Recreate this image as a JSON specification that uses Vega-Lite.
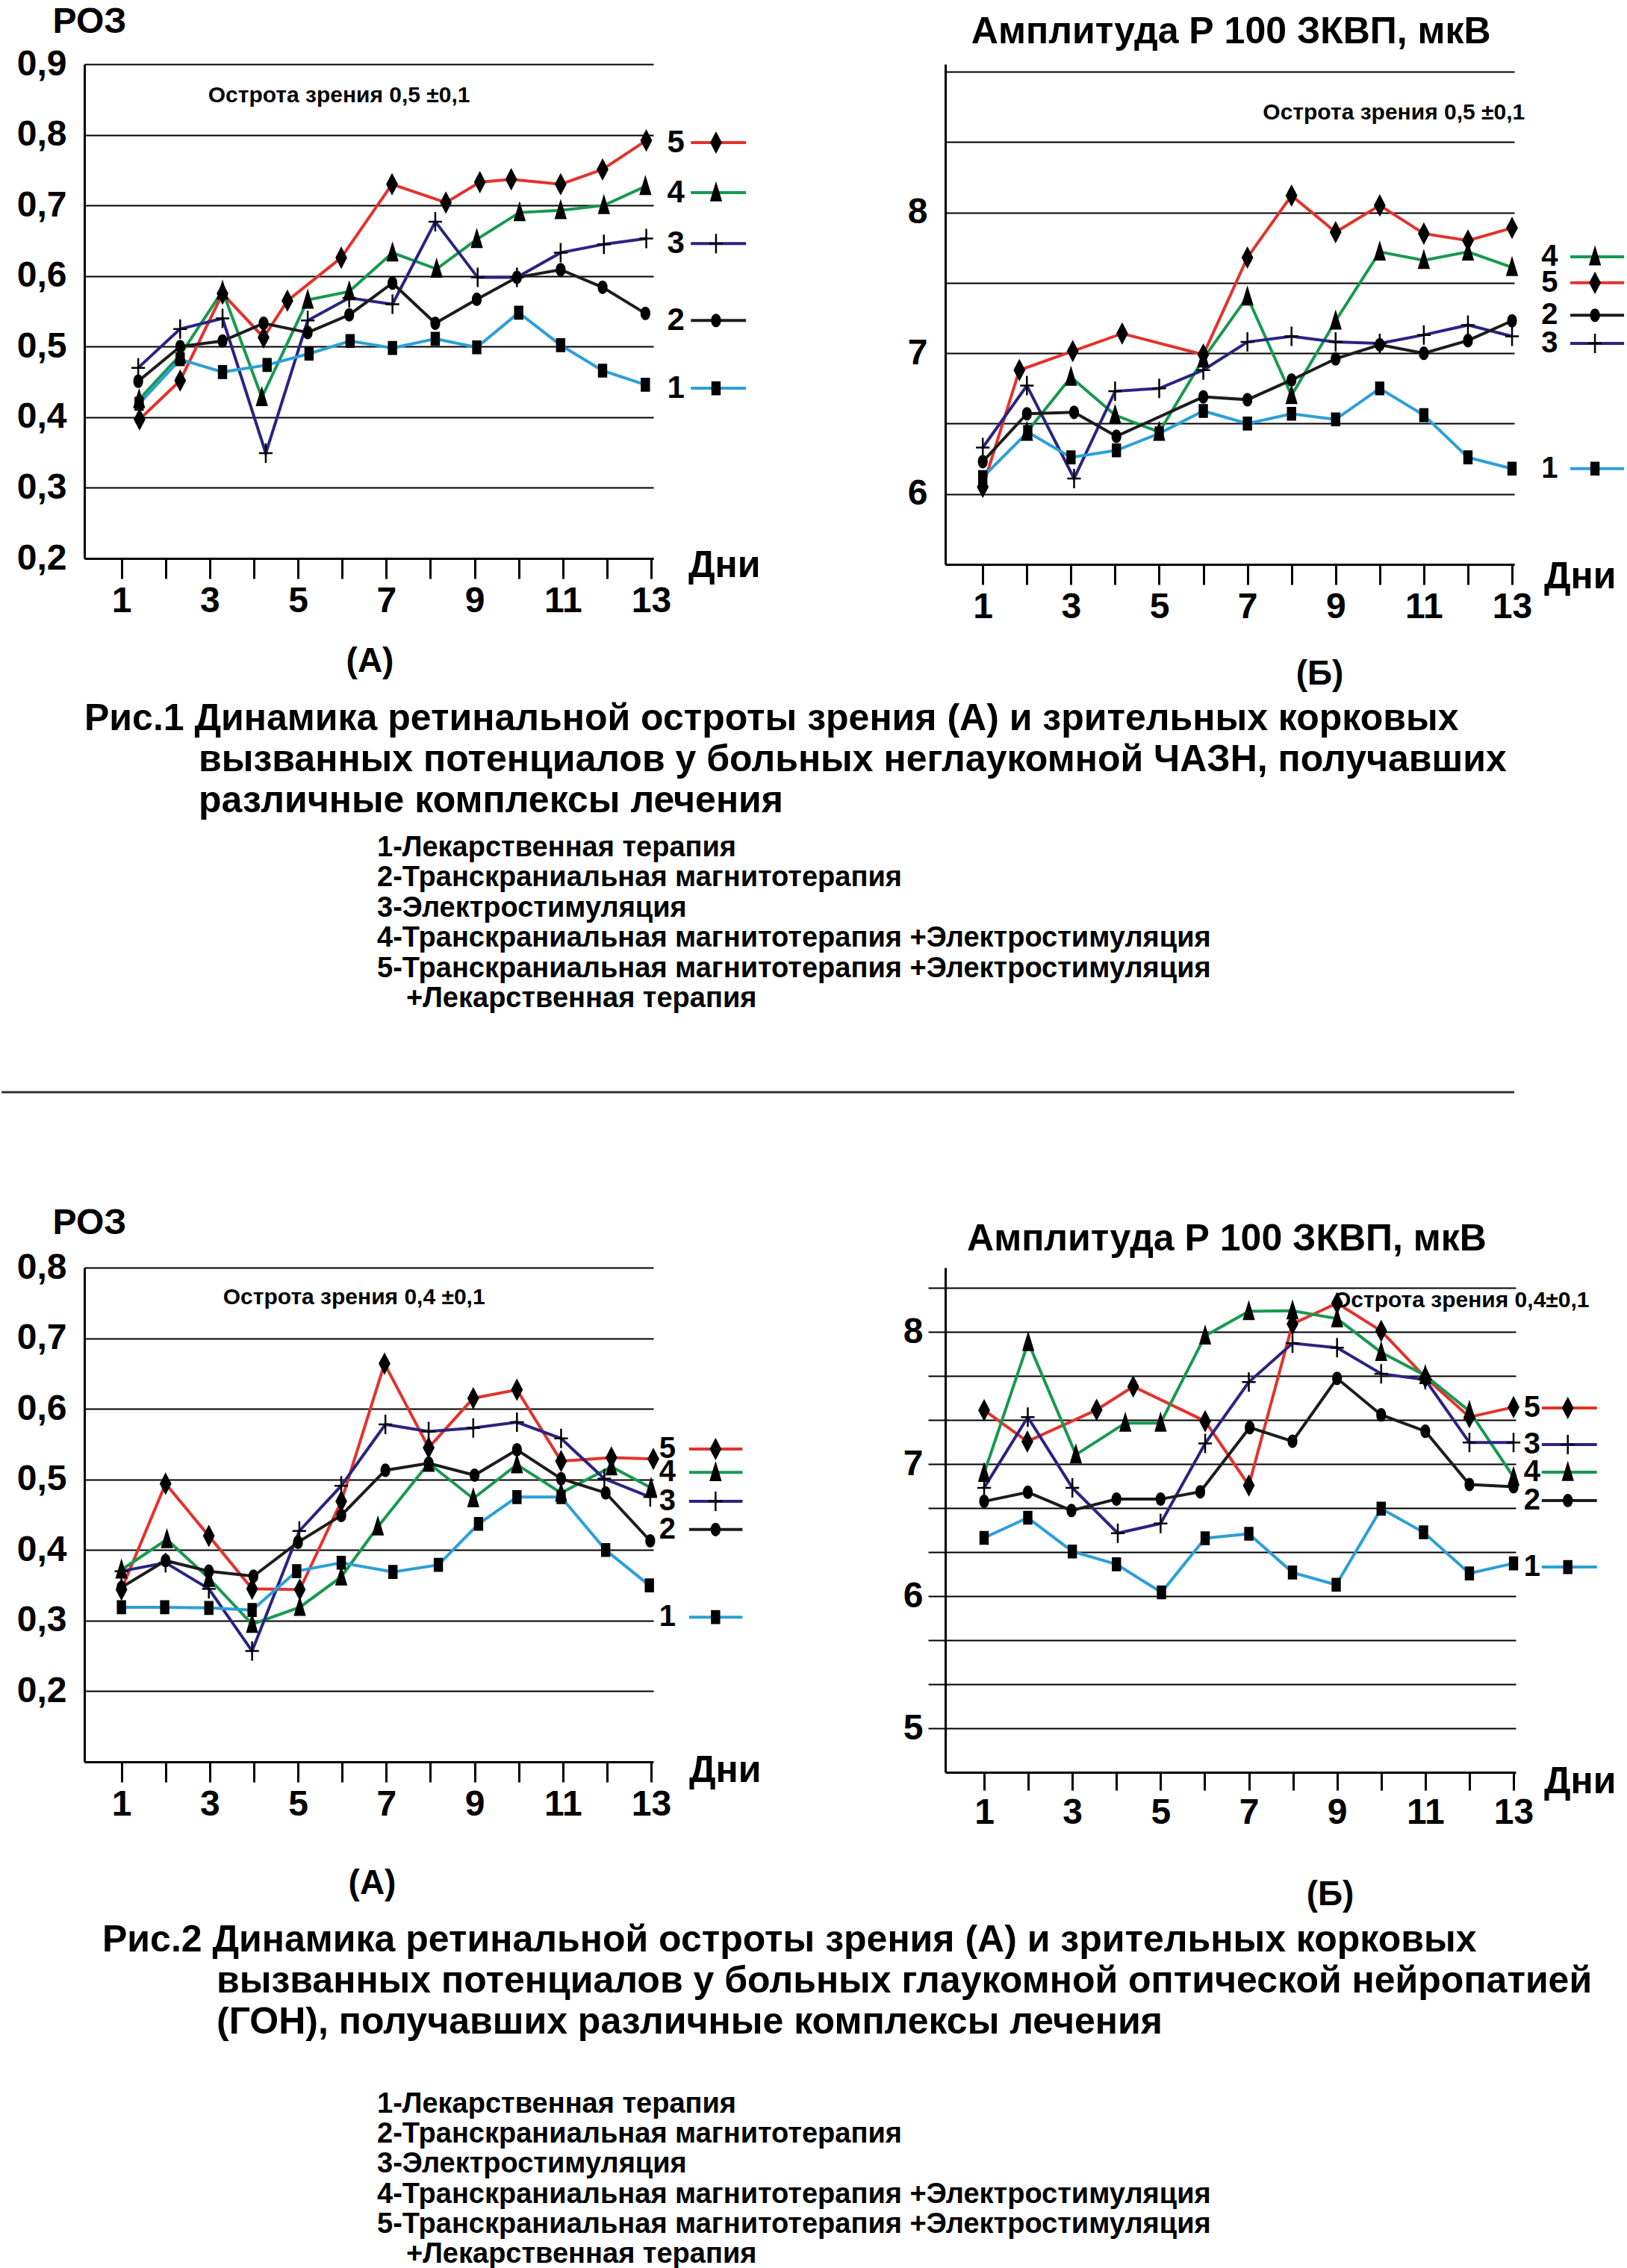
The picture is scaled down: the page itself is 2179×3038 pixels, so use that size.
{
"$schema": "https://vega.github.io/schema/vega-lite/v6.json",
"background": "white",
"padding": 0,
"autosize": {"type": "pad"},
"config": {
  "font": "Liberation Sans",
  "view": {"stroke": null},
  "text": {"font": "Liberation Sans", "fontWeight": "bold", "color": "black"},
  "axisX": {"grid": false, "tickSize": 27, "tickWidth": 3, "tickColor": "black", "domainColor": "black", "domainWidth": 3, "labelFontSize": 48, "labelFontWeight": "bold", "labelColor": "black", "labelPadding": 6, "labelOverlap": false, "labelFlush": false, "titleFontSize": 46, "titleFontWeight": "bold", "titleColor": "black", "titleBaseline": "middle", "titleAlign": "center"},
  "axisY": {"grid": true, "gridColor": "black", "gridWidth": 2, "gridOpacity": 1, "ticks": false, "tickSize": 0, "domainColor": "black", "domainWidth": 3, "labelFontSize": 48, "labelFontWeight": "bold", "labelColor": "black", "labelPadding": 24, "labelOverlap": false, "labelFlush": false, "titleFontSize": 48, "titleFontWeight": "bold", "titleColor": "black", "titleAngle": 0, "titleAlign": "left", "titleBaseline": "middle"},
  "title": {"font": "Liberation Sans", "fontWeight": "bold", "color": "black"}
},
"datasets": {
  "p1a": [
    {"s":"5","d":1.41,"v":0.397},{"s":"5","d":2.33,"v":0.452},{"s":"5","d":3.29,"v":0.575},{"s":"5","d":4.22,"v":0.513},{"s":"5","d":4.76,"v":0.565},{"s":"5","d":5.98,"v":0.626},{"s":"5","d":7.13,"v":0.73},{"s":"5","d":8.35,"v":0.704},{"s":"5","d":9.12,"v":0.733},{"s":"5","d":9.83,"v":0.737},{"s":"5","d":10.95,"v":0.73},{"s":"5","d":11.9,"v":0.751},{"s":"5","d":12.89,"v":0.792},
    {"s":"4","d":1.4,"v":0.425},{"s":"4","d":2.33,"v":0.488},{"s":"4","d":3.29,"v":0.579},{"s":"4","d":4.18,"v":0.428},{"s":"4","d":5.22,"v":0.566},{"s":"4","d":6.16,"v":0.578},{"s":"4","d":7.14,"v":0.633},{"s":"4","d":8.14,"v":0.61},{"s":"4","d":9.05,"v":0.652},{"s":"4","d":10.02,"v":0.69},{"s":"4","d":10.95,"v":0.693},{"s":"4","d":11.93,"v":0.7},{"s":"4","d":12.87,"v":0.727},
    {"s":"3","d":1.38,"v":0.47},{"s":"3","d":2.33,"v":0.525},{"s":"3","d":3.29,"v":0.54},{"s":"3","d":4.27,"v":0.349},{"s":"3","d":5.22,"v":0.537},{"s":"3","d":6.16,"v":0.569},{"s":"3","d":7.14,"v":0.56},{"s":"3","d":8.11,"v":0.677},{"s":"3","d":9.07,"v":0.598},{"s":"3","d":9.96,"v":0.598},{"s":"3","d":10.95,"v":0.633},{"s":"3","d":11.93,"v":0.645},{"s":"3","d":12.89,"v":0.653},
    {"s":"2","d":1.38,"v":0.451},{"s":"2","d":2.33,"v":0.5},{"s":"2","d":3.29,"v":0.508},{"s":"2","d":4.22,"v":0.533},{"s":"2","d":5.22,"v":0.52},{"s":"2","d":6.16,"v":0.545},{"s":"2","d":7.14,"v":0.59},{"s":"2","d":8.11,"v":0.533},{"s":"2","d":9.05,"v":0.567},{"s":"2","d":9.96,"v":0.598},{"s":"2","d":10.95,"v":0.609},{"s":"2","d":11.9,"v":0.584},{"s":"2","d":12.87,"v":0.547},
    {"s":"1","d":1.4,"v":0.419},{"s":"1","d":2.33,"v":0.482},{"s":"1","d":3.29,"v":0.464},{"s":"1","d":4.3,"v":0.474},{"s":"1","d":5.25,"v":0.49},{"s":"1","d":6.18,"v":0.508},{"s":"1","d":7.14,"v":0.498},{"s":"1","d":8.11,"v":0.511},{"s":"1","d":9.05,"v":0.499},{"s":"1","d":10.0,"v":0.548},{"s":"1","d":10.95,"v":0.502},{"s":"1","d":11.9,"v":0.466},{"s":"1","d":12.87,"v":0.446}
  ],
  "l1a": [{"s":"5","v":0.789},{"s":"4","v":0.718},{"s":"3","v":0.646},{"s":"2","v":0.537},{"s":"1","v":0.441}],
  "p1b": [
    {"s":"5","d":1.0,"v":6.05},{"s":"5","d":1.83,"v":6.88},{"s":"5","d":3.04,"v":7.015},{"s":"5","d":4.16,"v":7.14},{"s":"5","d":6.0,"v":6.99},{"s":"5","d":7.0,"v":7.68},{"s":"5","d":8.0,"v":8.12},{"s":"5","d":9.0,"v":7.86},{"s":"5","d":10.0,"v":8.05},{"s":"5","d":11.0,"v":7.85},{"s":"5","d":12.0,"v":7.8},{"s":"5","d":13.0,"v":7.89},
    {"s":"4","d":2.0,"v":6.44},{"s":"4","d":3.0,"v":6.83},{"s":"4","d":4.0,"v":6.56},{"s":"4","d":5.0,"v":6.44},{"s":"4","d":6.0,"v":6.96},{"s":"4","d":7.0,"v":7.4},{"s":"4","d":8.0,"v":6.7},{"s":"4","d":9.0,"v":7.23},{"s":"4","d":10.0,"v":7.72},{"s":"4","d":11.0,"v":7.66},{"s":"4","d":12.0,"v":7.72},{"s":"4","d":13.0,"v":7.61},
    {"s":"3","d":1.0,"v":6.33},{"s":"3","d":2.0,"v":6.77},{"s":"3","d":3.07,"v":6.11},{"s":"3","d":4.0,"v":6.73},{"s":"3","d":5.0,"v":6.75},{"s":"3","d":6.0,"v":6.88},{"s":"3","d":7.0,"v":7.08},{"s":"3","d":8.0,"v":7.12},{"s":"3","d":9.0,"v":7.08},{"s":"3","d":10.0,"v":7.07},{"s":"3","d":11.0,"v":7.13},{"s":"3","d":12.0,"v":7.2},{"s":"3","d":13.0,"v":7.12},
    {"s":"2","d":1.0,"v":6.23},{"s":"2","d":2.0,"v":6.57},{"s":"2","d":3.07,"v":6.58},{"s":"2","d":4.03,"v":6.41},{"s":"2","d":6.0,"v":6.69},{"s":"2","d":7.0,"v":6.67},{"s":"2","d":8.0,"v":6.81},{"s":"2","d":9.0,"v":6.96},{"s":"2","d":10.0,"v":7.06},{"s":"2","d":11.0,"v":7.0},{"s":"2","d":12.0,"v":7.09},{"s":"2","d":13.0,"v":7.23},
    {"s":"1","d":1.0,"v":6.12},{"s":"1","d":2.02,"v":6.44},{"s":"1","d":3.0,"v":6.26},{"s":"1","d":4.03,"v":6.31},{"s":"1","d":5.0,"v":6.43},{"s":"1","d":6.0,"v":6.59},{"s":"1","d":7.0,"v":6.5},{"s":"1","d":8.0,"v":6.57},{"s":"1","d":9.0,"v":6.53},{"s":"1","d":10.0,"v":6.75},{"s":"1","d":11.0,"v":6.56},{"s":"1","d":12.0,"v":6.26},{"s":"1","d":13.0,"v":6.18}
  ],
  "l1b": [{"s":"4","v":7.685},{"s":"5","v":7.5},{"s":"2","v":7.27},{"s":"3","v":7.07},{"s":"1","v":6.18}],
  "p2a": [
    {"s":"5","d":1.0,"v":0.344},{"s":"5","d":2.0,"v":0.494},{"s":"5","d":2.98,"v":0.42},{"s":"5","d":3.96,"v":0.345},{"s":"5","d":5.04,"v":0.344},{"s":"5","d":5.98,"v":0.469},{"s":"5","d":6.96,"v":0.664},{"s":"5","d":7.96,"v":0.545},{"s":"5","d":8.97,"v":0.615},{"s":"5","d":9.96,"v":0.627},{"s":"5","d":10.96,"v":0.526},{"s":"5","d":12.1,"v":0.531},{"s":"5","d":13.05,"v":0.529},
    {"s":"4","d":1.0,"v":0.372},{"s":"4","d":2.03,"v":0.415},{"s":"4","d":2.98,"v":0.36},{"s":"4","d":3.96,"v":0.295},{"s":"4","d":5.04,"v":0.319},{"s":"4","d":5.98,"v":0.362},{"s":"4","d":6.81,"v":0.433},{"s":"4","d":7.96,"v":0.523},{"s":"4","d":8.97,"v":0.473},{"s":"4","d":9.96,"v":0.521},{"s":"4","d":10.96,"v":0.481},{"s":"4","d":12.1,"v":0.518},{"s":"4","d":13.0,"v":0.488},
    {"s":"3","d":1.0,"v":0.37},{"s":"3","d":2.0,"v":0.382},{"s":"3","d":2.98,"v":0.345},{"s":"3","d":3.96,"v":0.257},{"s":"3","d":5.03,"v":0.427},{"s":"3","d":5.98,"v":0.491},{"s":"3","d":6.98,"v":0.578},{"s":"3","d":7.96,"v":0.568},{"s":"3","d":8.97,"v":0.573},{"s":"3","d":9.96,"v":0.581},{"s":"3","d":10.96,"v":0.558},{"s":"3","d":11.94,"v":0.501},{"s":"3","d":12.98,"v":0.475},
    {"s":"2","d":1.0,"v":0.347},{"s":"2","d":2.0,"v":0.385},{"s":"2","d":2.98,"v":0.37},{"s":"2","d":3.99,"v":0.363},{"s":"2","d":5.0,"v":0.411},{"s":"2","d":5.98,"v":0.449},{"s":"2","d":6.98,"v":0.513},{"s":"2","d":7.96,"v":0.523},{"s":"2","d":9.0,"v":0.506},{"s":"2","d":9.96,"v":0.542},{"s":"2","d":10.96,"v":0.501},{"s":"2","d":11.97,"v":0.481},{"s":"2","d":12.98,"v":0.413},
    {"s":"1","d":1.0,"v":0.319},{"s":"1","d":1.98,"v":0.319},{"s":"1","d":2.98,"v":0.318},{"s":"1","d":3.96,"v":0.315},{"s":"1","d":4.97,"v":0.37},{"s":"1","d":5.98,"v":0.382},{"s":"1","d":7.15,"v":0.369},{"s":"1","d":8.18,"v":0.379},{"s":"1","d":9.09,"v":0.437},{"s":"1","d":9.96,"v":0.475},{"s":"1","d":10.96,"v":0.475},{"s":"1","d":11.97,"v":0.4},{"s":"1","d":12.96,"v":0.35}
  ],
  "l2a": [{"s":"5","v":0.543},{"s":"4","v":0.51},{"s":"3","v":0.469},{"s":"2","v":0.429},{"s":"1","v":0.305}],
  "p2b": [
    {"s":"5","d":1.0,"v":7.407},{"s":"5","d":1.98,"v":7.17},{"s":"5","d":3.55,"v":7.41},{"s":"5","d":4.38,"v":7.586},{"s":"5","d":6.01,"v":7.324},{"s":"5","d":7.0,"v":6.838},{"s":"5","d":7.99,"v":8.06},{"s":"5","d":9.0,"v":8.217},{"s":"5","d":10.0,"v":8.007},{"s":"5","d":11.0,"v":7.655},{"s":"5","d":12.0,"v":7.355},{"s":"5","d":13.0,"v":7.43},
    {"s":"4","d":1.0,"v":6.93},{"s":"4","d":2.0,"v":7.92},{"s":"4","d":3.08,"v":7.07},{"s":"4","d":4.2,"v":7.31},{"s":"4","d":5.0,"v":7.31},{"s":"4","d":6.01,"v":7.97},{"s":"4","d":7.0,"v":8.155},{"s":"4","d":7.99,"v":8.16},{"s":"4","d":9.0,"v":8.1},{"s":"4","d":10.0,"v":7.845},{"s":"4","d":11.0,"v":7.67},{"s":"4","d":12.0,"v":7.4},{"s":"4","d":13.0,"v":6.9},
    {"s":"3","d":1.0,"v":6.82},{"s":"3","d":1.99,"v":7.355},{"s":"3","d":3.0,"v":6.82},{"s":"3","d":4.03,"v":6.476},{"s":"3","d":5.0,"v":6.55},{"s":"3","d":6.01,"v":7.155},{"s":"3","d":7.0,"v":7.62},{"s":"3","d":7.99,"v":7.914},{"s":"3","d":9.0,"v":7.88},{"s":"3","d":10.0,"v":7.683},{"s":"3","d":11.0,"v":7.638},{"s":"3","d":12.0,"v":7.162},{"s":"3","d":13.0,"v":7.162},
    {"s":"2","d":1.0,"v":6.717},{"s":"2","d":1.99,"v":6.786},{"s":"2","d":2.98,"v":6.648},{"s":"2","d":4.0,"v":6.734},{"s":"2","d":5.0,"v":6.734},{"s":"2","d":5.9,"v":6.79},{"s":"2","d":7.02,"v":7.276},{"s":"2","d":7.99,"v":7.172},{"s":"2","d":9.0,"v":7.648},{"s":"2","d":10.0,"v":7.372},{"s":"2","d":11.0,"v":7.248},{"s":"2","d":12.0,"v":6.845},{"s":"2","d":13.0,"v":6.828},
    {"s":"1","d":1.0,"v":6.441},{"s":"1","d":1.99,"v":6.593},{"s":"1","d":3.0,"v":6.338},{"s":"1","d":4.0,"v":6.241},{"s":"1","d":5.02,"v":6.028},{"s":"1","d":6.01,"v":6.438},{"s":"1","d":7.0,"v":6.472},{"s":"1","d":7.99,"v":6.179},{"s":"1","d":8.98,"v":6.086},{"s":"1","d":10.0,"v":6.662},{"s":"1","d":10.96,"v":6.483},{"s":"1","d":12.0,"v":6.172},{"s":"1","d":13.0,"v":6.248}
  ],
  "l2b": [{"s":"5","v":7.424},{"s":"3","v":7.147},{"s":"4","v":6.938},{"s":"2","v":6.723},{"s":"1","v":6.22}]
},
"columns": 4,
"align": "each",
"bounds": "flush",
"spacing": 0,
"concat": [
  {"width": 111, "height": 80, "data": {"values": [{}]}, "mark": "text", "encoding": {"text": {"value": ""}}},
  {"width": 1, "height": 1, "data": {"values": [{}]}, "mark": "text", "encoding": {"text": {"value": ""}}},
  {"width": 1, "height": 1, "data": {"values": [{}]}, "mark": "text", "encoding": {"text": {"value": ""}}},
  {"width": 1, "height": 1, "data": {"values": [{}]}, "mark": "text", "encoding": {"text": {"value": ""}}},

  {"width": 111, "height": 1, "data": {"values": [{}]}, "mark": "text", "encoding": {"text": {"value": ""}}},
  {"width": 762, "height": 662, "layer": [
    {"data": {"name": "p1a"}, "mark": {"type": "line", "strokeWidth": 4},
     "encoding": {
       "x": {"field": "d", "type": "quantitative", "scale": {"domain": [0.16, 13.05], "nice": false, "zero": false},
             "axis": {"values": [1,2,3,4,5,6,7,8,9,10,11,12,13], "format": "d", "labelExpr": "datum.value % 2 == 1 ? datum.label : ''", "title": "(А)", "titleX": 382, "titleY": 137}},
       "y": {"field": "v", "type": "quantitative", "scale": {"domain": [0.2, 0.9], "nice": false, "zero": false},
             "axis": {"values": [0.2,0.3,0.4,0.5,0.6,0.7,0.8,0.9], "labelExpr": "replace(format(datum.value, '.1f'), '.', ',')", "title": "РОЗ", "titleX": -43, "titleY": -57}},
       "color": {"field": "s", "type": "nominal", "scale": {"domain": ["1","2","3","4","5"], "range": ["#2b9fd9","#1c1c1c","#2a2382","#17994e","#e2332c"]}, "legend": null}
     }},
    {"data": {"name": "p1a"}, "mark": {"type": "point", "filled": true, "color": "black", "stroke": "black", "strokeWidth": 2.5, "opacity": 1, "size": 676},
     "encoding": {
       "x": {"field": "d", "type": "quantitative"},
       "y": {"field": "v", "type": "quantitative"},
       "shape": {"field": "s", "type": "nominal", "scale": {"domain": ["1","2","3","4","5"], "range": ["M-0.38,-0.62H0.38V0.62H-0.38Z","M0,-0.6C0.55,-0.6 0.55,0.6 0,0.6C-0.55,0.6 -0.55,-0.6 0,-0.6Z","M0,-1V1M-0.7,0H0.7","M0,-0.85L0.5,0.8L-0.5,0.8Z","M0,-0.95L0.5,0L0,0.95L-0.5,0Z"]}, "legend": null}
     }},
    {"data": {"name": "l1a"}, "mark": {"type": "rule", "strokeWidth": 4},
     "encoding": {"x": {"datum": 13.9}, "x2": {"datum": 15.15}, "y": {"field": "v", "type": "quantitative"}, "color": {"field": "s", "type": "nominal", "legend": null}}},
    {"data": {"name": "l1a"}, "mark": {"type": "point", "filled": true, "color": "black", "stroke": "black", "strokeWidth": 2.5, "opacity": 1, "size": 676},
     "encoding": {"x": {"datum": 14.47}, "y": {"field": "v", "type": "quantitative"}, "shape": {"field": "s", "type": "nominal", "legend": null}}},
    {"data": {"name": "l1a"}, "mark": {"type": "text", "fontSize": 42, "align": "center", "baseline": "middle"},
     "encoding": {"x": {"datum": 13.56}, "y": {"field": "v", "type": "quantitative"}, "text": {"field": "s"}}},
    {"data": {"values": [{"t": "Острота зрения 0,5 ±0,1"}]}, "mark": {"type": "text", "fontSize": 30, "align": "center", "baseline": "middle"},
     "encoding": {"x": {"datum": 5.93}, "y": {"datum": 0.856}, "text": {"field": "t"}}},
    {"data": {"values": [{"t": "Дни"}]}, "mark": {"type": "text", "fontSize": 50, "align": "left", "baseline": "alphabetic", "dx": 47, "dy": 25},
     "encoding": {"x": {"datum": 13.05}, "y": {"datum": 0.2}, "text": {"field": "t"}}}
  ]},
  {"width": 391, "height": 1, "data": {"values": [{}]}, "mark": "text", "encoding": {"text": {"value": ""}}},
  {"width": 762, "height": 670, "layer": [
    {"data": {"name": "p1b"}, "mark": {"type": "line", "strokeWidth": 4},
     "encoding": {
       "x": {"field": "d", "type": "quantitative", "scale": {"domain": [0.15, 13.05], "nice": false, "zero": false},
             "axis": {"values": [1,2,3,4,5,6,7,8,9,10,11,12,13], "format": "d", "labelExpr": "datum.value % 2 == 1 ? datum.label : ''", "title": "(Б)", "titleX": 501, "titleY": 146}},
       "y": {"field": "v", "type": "quantitative", "scale": {"domain": [5.5, 9.053], "nice": false, "zero": false},
             "axis": {"values": [5.5,6,6.5,7,7.5,8,8.5,9], "labelExpr": "datum.value % 1 == 0 && datum.value < 9 ? format(datum.value, 'd') : ''", "title": null}},
       "color": {"field": "s", "type": "nominal", "scale": {"domain": ["1","2","3","4","5"], "range": ["#2b9fd9","#1c1c1c","#2a2382","#17994e","#e2332c"]}, "legend": null}
     }},
    {"data": {"name": "p1b"}, "mark": {"type": "point", "filled": true, "color": "black", "stroke": "black", "strokeWidth": 2.5, "opacity": 1, "size": 676},
     "encoding": {
       "x": {"field": "d", "type": "quantitative"},
       "y": {"field": "v", "type": "quantitative"},
       "shape": {"field": "s", "type": "nominal", "scale": {"domain": ["1","2","3","4","5"], "range": ["M-0.38,-0.62H0.38V0.62H-0.38Z","M0,-0.6C0.55,-0.6 0.55,0.6 0,0.6C-0.55,0.6 -0.55,-0.6 0,-0.6Z","M0,-1V1M-0.7,0H0.7","M0,-0.85L0.5,0.8L-0.5,0.8Z","M0,-0.95L0.5,0L0,0.95L-0.5,0Z"]}, "legend": null}
     }},
    {"data": {"name": "l1b"}, "mark": {"type": "rule", "strokeWidth": 4},
     "encoding": {"x": {"datum": 14.32}, "x2": {"datum": 15.54}, "y": {"field": "v", "type": "quantitative"}, "color": {"field": "s", "type": "nominal", "legend": null}}},
    {"data": {"name": "l1b"}, "mark": {"type": "point", "filled": true, "color": "black", "stroke": "black", "strokeWidth": 2.5, "opacity": 1, "size": 676},
     "encoding": {"x": {"datum": 14.88}, "y": {"field": "v", "type": "quantitative"}, "shape": {"field": "s", "type": "nominal", "legend": null}}},
    {"data": {"name": "l1b"}, "mark": {"type": "text", "fontSize": 40, "align": "center", "baseline": "middle"},
     "encoding": {"x": {"datum": 13.85}, "y": {"field": "v", "type": "quantitative"}, "text": {"field": "s"}}},
    {"data": {"values": [{"t": "Острота зрения 0,5 ±0,1"}]}, "mark": {"type": "text", "fontSize": 30, "align": "center", "baseline": "middle"},
     "encoding": {"x": {"datum": 10.32}, "y": {"datum": 8.71}, "text": {"field": "t"}}},
    {"data": {"values": [{"t": "Амплитуда Р 100 ЗКВП, мкВ"}]}, "mark": {"type": "text", "fontSize": 50, "align": "center", "baseline": "middle"},
     "encoding": {"x": {"datum": 6.63}, "y": {"datum": 9.281}, "text": {"field": "t"}}},
    {"data": {"values": [{"t": "Дни"}]}, "mark": {"type": "text", "fontSize": 50, "align": "left", "baseline": "alphabetic", "dx": 40, "dy": 32},
     "encoding": {"x": {"datum": 13.05}, "y": {"datum": 5.5}, "text": {"field": "t"}}}
  ]},

  {"width": 111, "height": 182, "data": {"values": [{}]}, "mark": "text", "encoding": {"text": {"value": ""}},
   "title": {"text": ["Рис.1 Динамика ретинальной остроты зрения (А) и зрительных корковых"], "orient": "bottom", "anchor": "start", "frame": "group", "offset": 0, "dx": 111, "fontSize": 50, "lineHeight": 55, "baseline": "top"}},
  {"width": 1, "height": 1, "data": {"values": [{}]}, "mark": "text", "encoding": {"text": {"value": ""}}},
  {"width": 1, "height": 1, "data": {"values": [{}]}, "mark": "text", "encoding": {"text": {"value": ""}}},
  {"width": 1, "height": 1, "data": {"values": [{}]}, "mark": "text", "encoding": {"text": {"value": ""}}},

  {"width": 111, "height": 55, "data": {"values": [{}]}, "mark": "text", "encoding": {"text": {"value": ""}},
   "title": {"text": ["вызванных потенциалов у больных неглаукомной ЧАЗН, получавших", "различные комплексы лечения"], "orient": "bottom", "anchor": "start", "frame": "group", "offset": 0, "dx": 264, "fontSize": 50, "lineHeight": 55, "baseline": "top"}},
  {"width": 1, "height": 1, "data": {"values": [{}]}, "mark": "text", "encoding": {"text": {"value": ""}}},
  {"width": 1, "height": 1, "data": {"values": [{}]}, "mark": "text", "encoding": {"text": {"value": ""}}},
  {"width": 1, "height": 1, "data": {"values": [{}]}, "mark": "text", "encoding": {"text": {"value": ""}}},

  {"width": 111, "height": 124, "data": {"values": [{}]}, "mark": "text", "encoding": {"text": {"value": ""}},
   "title": {"text": ["1-Лекарственная терапия", "2-Транскраниальная магнитотерапия", "3-Электростимуляция", "4-Транскраниальная магнитотерапия +Электростимуляция", "5-Транскраниальная магнитотерапия +Электростимуляция"], "orient": "bottom", "anchor": "start", "frame": "group", "offset": 0, "dx": 503, "fontSize": 38, "lineHeight": 40.4, "baseline": "top"}},
  {"width": 1, "height": 1, "data": {"values": [{}]}, "mark": "text", "encoding": {"text": {"value": ""}}},
  {"width": 1, "height": 1, "data": {"values": [{}]}, "mark": "text", "encoding": {"text": {"value": ""}}},
  {"width": 1, "height": 1, "data": {"values": [{}]}, "mark": "text", "encoding": {"text": {"value": ""}}},

  {"width": 111, "height": 202, "data": {"values": [{}]}, "mark": "text", "encoding": {"text": {"value": ""}},
   "title": {"text": "+Лекарственная терапия", "orient": "bottom", "anchor": "start", "frame": "group", "offset": 0, "dx": 542, "fontSize": 38, "baseline": "top"}},
  {"width": 1, "height": 1, "data": {"values": [{}]}, "mark": "text", "encoding": {"text": {"value": ""}}},
  {"width": 1, "height": 1, "data": {"values": [{}]}, "mark": "text", "encoding": {"text": {"value": ""}}},
  {"width": 1, "height": 1, "data": {"values": [{}]}, "mark": "text", "encoding": {"text": {"value": ""}}},

  {"width": 111, "height": 144, "data": {"values": [{}]}, "mark": {"type": "rule", "color": "#333333", "strokeWidth": 3},
   "encoding": {"y": {"datum": 0, "type": "quantitative", "scale": {"domain": [0, 1]}, "axis": null}}},
  {"width": 762, "height": 144, "data": {"values": [{}]}, "mark": {"type": "rule", "color": "#333333", "strokeWidth": 3},
   "encoding": {"y": {"datum": 0, "type": "quantitative", "scale": {"domain": [0, 1]}, "axis": null}}},
  {"width": 391, "height": 144, "data": {"values": [{}]}, "mark": {"type": "rule", "color": "#333333", "strokeWidth": 3},
   "encoding": {"y": {"datum": 0, "type": "quantitative", "scale": {"domain": [0, 1]}, "axis": null}}},
  {"width": 762, "height": 144, "data": {"values": [{}]}, "mark": {"type": "rule", "color": "#333333", "strokeWidth": 3},
   "encoding": {"y": {"datum": 0, "type": "quantitative", "scale": {"domain": [0, 1]}, "axis": null}}},

  {"width": 111, "height": 235, "data": {"values": [{}]}, "mark": "text", "encoding": {"text": {"value": ""}}},
  {"width": 1, "height": 1, "data": {"values": [{}]}, "mark": "text", "encoding": {"text": {"value": ""}}},
  {"width": 1, "height": 1, "data": {"values": [{}]}, "mark": "text", "encoding": {"text": {"value": ""}}},
  {"width": 1, "height": 1, "data": {"values": [{}]}, "mark": "text", "encoding": {"text": {"value": ""}}},

  {"width": 111, "height": 1, "data": {"values": [{}]}, "mark": "text", "encoding": {"text": {"value": ""}}},
  {"width": 762, "height": 662, "layer": [
    {"data": {"name": "p2a"}, "mark": {"type": "line", "strokeWidth": 4},
     "encoding": {
       "x": {"field": "d", "type": "quantitative", "scale": {"domain": [0.16, 13.05], "nice": false, "zero": false},
             "axis": {"values": [1,2,3,4,5,6,7,8,9,10,11,12,13], "format": "d", "labelExpr": "datum.value % 2 == 1 ? datum.label : ''", "title": "(А)", "titleX": 385, "titleY": 162}},
       "y": {"field": "v", "type": "quantitative", "scale": {"domain": [0.1, 0.8], "nice": false, "zero": false},
             "axis": {"values": [0.2,0.3,0.4,0.5,0.6,0.7,0.8], "labelExpr": "replace(format(datum.value, '.1f'), '.', ',')", "title": "РОЗ", "titleX": -43, "titleY": -60}},
       "color": {"field": "s", "type": "nominal", "scale": {"domain": ["1","2","3","4","5"], "range": ["#2b9fd9","#1c1c1c","#2a2382","#17994e","#e2332c"]}, "legend": null}
     }},
    {"data": {"name": "p2a"}, "mark": {"type": "point", "filled": true, "color": "black", "stroke": "black", "strokeWidth": 2.5, "opacity": 1, "size": 676},
     "encoding": {
       "x": {"field": "d", "type": "quantitative"},
       "y": {"field": "v", "type": "quantitative"},
       "shape": {"field": "s", "type": "nominal", "scale": {"domain": ["1","2","3","4","5"], "range": ["M-0.38,-0.62H0.38V0.62H-0.38Z","M0,-0.6C0.55,-0.6 0.55,0.6 0,0.6C-0.55,0.6 -0.55,-0.6 0,-0.6Z","M0,-1V1M-0.7,0H0.7","M0,-0.85L0.5,0.8L-0.5,0.8Z","M0,-0.95L0.5,0L0,0.95L-0.5,0Z"]}, "legend": null}
     }},
    {"data": {"name": "l2a"}, "mark": {"type": "rule", "strokeWidth": 4},
     "encoding": {"x": {"datum": 13.86}, "x2": {"datum": 15.07}, "y": {"field": "v", "type": "quantitative"}, "color": {"field": "s", "type": "nominal", "legend": null}}},
    {"data": {"name": "l2a"}, "mark": {"type": "point", "filled": true, "color": "black", "stroke": "black", "strokeWidth": 2.5, "opacity": 1, "size": 676},
     "encoding": {"x": {"datum": 14.46}, "y": {"field": "v", "type": "quantitative"}, "shape": {"field": "s", "type": "nominal", "legend": null}}},
    {"data": {"name": "l2a"}, "mark": {"type": "text", "fontSize": 40, "align": "center", "baseline": "middle"},
     "encoding": {"x": {"datum": 13.37}, "y": {"field": "v", "type": "quantitative"}, "text": {"field": "s"}}},
    {"data": {"values": [{"t": "Острота зрения 0,4 ±0,1"}]}, "mark": {"type": "text", "fontSize": 30, "align": "center", "baseline": "middle"},
     "encoding": {"x": {"datum": 6.27}, "y": {"datum": 0.758}, "text": {"field": "t"}}},
    {"data": {"values": [{"t": "Дни"}]}, "mark": {"type": "text", "fontSize": 50, "align": "left", "baseline": "alphabetic", "dx": 48, "dy": 27},
     "encoding": {"x": {"datum": 13.05}, "y": {"datum": 0.1}, "text": {"field": "t"}}}
  ]},
  {"width": 391, "height": 1, "data": {"values": [{}]}, "mark": "text", "encoding": {"text": {"value": ""}}},
  {"width": 764, "height": 676, "layer": [
    {"data": {"name": "p2b"}, "mark": {"type": "line", "strokeWidth": 4},
     "encoding": {
       "x": {"field": "d", "type": "quantitative", "scale": {"domain": [0.12, 13.05], "nice": false, "zero": false},
             "axis": {"values": [1,2,3,4,5,6,7,8,9,10,11,12,13], "format": "d", "labelExpr": "datum.value % 2 == 1 ? datum.label : ''", "title": "(Б)", "titleX": 515, "titleY": 163, "tickSize": 24}},
       "y": {"field": "v", "type": "quantitative", "scale": {"domain": [4.6667, 8.486], "nice": false, "zero": false},
             "axis": {"values": [5,5.3333,5.6667,6,6.3333,6.6667,7,7.3333,7.6667,8,8.3333], "labelExpr": "abs(datum.value - round(datum.value)) < 0.01 ? format(round(datum.value), 'd') : ''", "title": null, "ticks": true, "tickSize": 23, "tickWidth": 2, "tickColor": "black", "labelPadding": 7}},
       "color": {"field": "s", "type": "nominal", "scale": {"domain": ["1","2","3","4","5"], "range": ["#2b9fd9","#1c1c1c","#2a2382","#17994e","#e2332c"]}, "legend": null}
     }},
    {"data": {"name": "p2b"}, "mark": {"type": "point", "filled": true, "color": "black", "stroke": "black", "strokeWidth": 2.5, "opacity": 1, "size": 676},
     "encoding": {
       "x": {"field": "d", "type": "quantitative"},
       "y": {"field": "v", "type": "quantitative"},
       "shape": {"field": "s", "type": "nominal", "scale": {"domain": ["1","2","3","4","5"], "range": ["M-0.38,-0.62H0.38V0.62H-0.38Z","M0,-0.6C0.55,-0.6 0.55,0.6 0,0.6C-0.55,0.6 -0.55,-0.6 0,-0.6Z","M0,-1V1M-0.7,0H0.7","M0,-0.85L0.5,0.8L-0.5,0.8Z","M0,-0.95L0.5,0L0,0.95L-0.5,0Z"]}, "legend": null}
     }},
    {"data": {"name": "l2b"}, "mark": {"type": "rule", "strokeWidth": 4},
     "encoding": {"x": {"datum": 13.64}, "x2": {"datum": 14.89}, "y": {"field": "v", "type": "quantitative"}, "color": {"field": "s", "type": "nominal", "legend": null}}},
    {"data": {"name": "l2b"}, "mark": {"type": "point", "filled": true, "color": "black", "stroke": "black", "strokeWidth": 2.5, "opacity": 1, "size": 676},
     "encoding": {"x": {"datum": 14.23}, "y": {"field": "v", "type": "quantitative"}, "shape": {"field": "s", "type": "nominal", "legend": null}}},
    {"data": {"name": "l2b"}, "mark": {"type": "text", "fontSize": 40, "align": "center", "baseline": "middle"},
     "encoding": {"x": {"datum": 13.42}, "y": {"field": "v", "type": "quantitative"}, "text": {"field": "s"}}},
    {"data": {"values": [{"t": "Острота зрения 0,4±0,1"}]}, "mark": {"type": "text", "fontSize": 30, "align": "left", "baseline": "middle"},
     "encoding": {"x": {"datum": 8.92}, "y": {"datum": 8.237}, "text": {"field": "t"}}},
    {"data": {"values": [{"t": "Амплитуда Р 100 ЗКВП, мкВ"}]}, "mark": {"type": "text", "fontSize": 50, "align": "center", "baseline": "middle"},
     "encoding": {"x": {"datum": 6.5}, "y": {"datum": 8.7007}, "text": {"field": "t"}}},
    {"data": {"values": [{"t": "Дни"}]}, "mark": {"type": "text", "fontSize": 50, "align": "left", "baseline": "alphabetic", "dx": 38, "dy": 28},
     "encoding": {"x": {"datum": 13.05}, "y": {"datum": 4.6667}, "text": {"field": "t"}}}
  ]},

  {"width": 111, "height": 200, "data": {"values": [{}]}, "mark": "text", "encoding": {"text": {"value": ""}},
   "title": {"text": ["Рис.2 Динамика ретинальной остроты зрения (А) и зрительных корковых"], "orient": "bottom", "anchor": "start", "frame": "group", "offset": 0, "dx": 135, "fontSize": 50, "lineHeight": 55, "baseline": "top"}},
  {"width": 1, "height": 1, "data": {"values": [{}]}, "mark": "text", "encoding": {"text": {"value": ""}}},
  {"width": 1, "height": 1, "data": {"values": [{}]}, "mark": "text", "encoding": {"text": {"value": ""}}},
  {"width": 1, "height": 1, "data": {"values": [{}]}, "mark": "text", "encoding": {"text": {"value": ""}}},

  {"width": 111, "height": 55, "data": {"values": [{}]}, "mark": "text", "encoding": {"text": {"value": ""}},
   "title": {"text": ["вызванных потенциалов у больных глаукомной оптической нейропатией", "(ГОН), получавших различные комплексы лечения"], "orient": "bottom", "anchor": "start", "frame": "group", "offset": 0, "dx": 288, "fontSize": 50, "lineHeight": 55, "baseline": "top"}},
  {"width": 1, "height": 1, "data": {"values": [{}]}, "mark": "text", "encoding": {"text": {"value": ""}}},
  {"width": 1, "height": 1, "data": {"values": [{}]}, "mark": "text", "encoding": {"text": {"value": ""}}},
  {"width": 1, "height": 1, "data": {"values": [{}]}, "mark": "text", "encoding": {"text": {"value": ""}}},

  {"width": 111, "height": 171, "data": {"values": [{}]}, "mark": "text", "encoding": {"text": {"value": ""}},
   "title": {"text": ["1-Лекарственная терапия", "2-Транскраниальная магнитотерапия", "3-Электростимуляция", "4-Транскраниальная магнитотерапия +Электростимуляция", "5-Транскраниальная магнитотерапия +Электростимуляция"], "orient": "bottom", "anchor": "start", "frame": "group", "offset": 0, "dx": 503, "fontSize": 38, "lineHeight": 40.2, "baseline": "top"}},
  {"width": 1, "height": 1, "data": {"values": [{}]}, "mark": "text", "encoding": {"text": {"value": ""}}},
  {"width": 1, "height": 1, "data": {"values": [{}]}, "mark": "text", "encoding": {"text": {"value": ""}}},
  {"width": 1, "height": 1, "data": {"values": [{}]}, "mark": "text", "encoding": {"text": {"value": ""}}},

  {"width": 111, "height": 201, "data": {"values": [{}]}, "mark": "text", "encoding": {"text": {"value": ""}},
   "title": {"text": "+Лекарственная терапия", "orient": "bottom", "anchor": "start", "frame": "group", "offset": 0, "dx": 542, "fontSize": 38, "baseline": "top"}},
  {"width": 1, "height": 1, "data": {"values": [{}]}, "mark": "text", "encoding": {"text": {"value": ""}}},
  {"width": 1, "height": 1, "data": {"values": [{}]}, "mark": "text", "encoding": {"text": {"value": ""}}},
  {"width": 1, "height": 1, "data": {"values": [{}]}, "mark": "text", "encoding": {"text": {"value": ""}}}
]
}
